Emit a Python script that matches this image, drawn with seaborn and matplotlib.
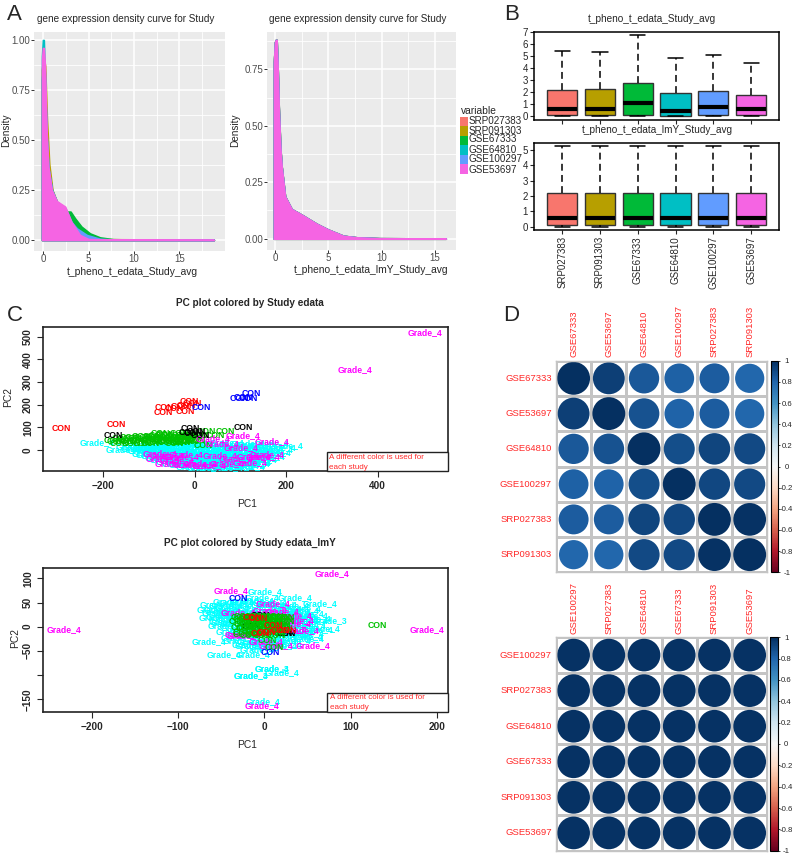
import numpy as np
import pandas as pd
import seaborn as sns
import matplotlib.pyplot as plt
from matplotlib.cm import ScalarMappable
from matplotlib.colors import Normalize
from matplotlib.patches import Rectangle
from matplotlib.ticker import MultipleLocator

sns.set_style("white")
plt.rcParams['font.family'] = ['Liberation Sans', 'DejaVu Sans']

W, H = 794, 856
studies = ['SRP027383', 'SRP091303', 'GSE67333', 'GSE64810', 'GSE100297', 'GSE53697']
gg_colors = ['#F8766D', '#B79F00', '#00BA38', '#00BFC4', '#619CFF', '#F564E3']

# panel A, density curves
a1_salmon_x = [-0.15, 0, 0.15, 0.35, 0.6, 0.95, 1.5, 2.4, 3.1, 4.0, 5.0, 7.0, 18.8]
a1_salmon_y = [0.85, 0.93, 0.86, 0.55, 0.36, 0.25, 0.19, 0.16, 0.09, 0.03, 0.006, 0.002, 0.001]
a1_olive_x = [-0.15, 0, 0.2, 0.4, 0.65, 1.0, 1.5, 2.4, 3.1, 4.0, 5.0, 7.0, 18.8]
a1_olive_y = [0.85, 0.92, 0.87, 0.6, 0.38, 0.25, 0.19, 0.16, 0.09, 0.035, 0.01, 0.004, 0.001]
a1_green_x = [-0.15, 0, 0.15, 0.35, 0.55, 0.95, 1.5, 2.3, 2.57, 3.0, 3.5, 4.2, 5.15, 6.25, 7.7, 10, 18.8]
a1_green_y = [0.8, 0.9, 0.84, 0.52, 0.36, 0.25, 0.19, 0.16, 0.142, 0.142, 0.108, 0.067, 0.033, 0.013, 0.004, 0.002, 0.001]
a1_cyan_x = [-0.15, -0.05, 0.05, 0.15, 0.35, 0.55, 0.95, 1.5, 2.4, 3.1, 4.0, 5.0, 7.0, 18.8]
a1_cyan_y = [0.92, 1.0, 1.0, 0.85, 0.53, 0.36, 0.25, 0.19, 0.16, 0.09, 0.03, 0.008, 0.002, 0.001]
a1_blue_x = [-0.15, 0, 0.15, 0.35, 0.55, 0.95, 1.5, 2.4, 3.1, 3.7, 4.8, 6.25, 8.0, 18.8]
a1_blue_y = [0.8, 0.9, 0.84, 0.53, 0.36, 0.25, 0.19, 0.16, 0.09, 0.058, 0.025, 0.006, 0.002, 0.001]
a1_pink_x = [-0.15, -0.05, 0.05, 0.18, 0.37, 0.55, 0.92, 1.47, 2.4, 3.1, 4.04, 4.96, 7.0, 18.8]
a1_pink_y = [0.9, 0.96, 0.96, 0.87, 0.53, 0.367, 0.25, 0.195, 0.167, 0.09, 0.025, 0.005, 0.002, 0.001]

a2_pink_x = [-0.1, 0.0, 0.08, 0.15, 0.25, 0.35, 0.5, 0.62, 0.94, 1.56, 2.5, 3.9, 5.0, 6.4, 7.66, 9.8, 16.0]
a2_pink_y = [0.78, 0.87, 0.88, 0.88, 0.75, 0.58, 0.4, 0.32, 0.187, 0.131, 0.106, 0.066, 0.04, 0.013, 0.006, 0.002, 0.001]

# panel B, five number summaries: min, q1, median, q3, max
b1_box = [[0, 0.08, 0.55, 2.2, 5.4],
          [0, 0.1, 0.55, 2.22, 5.32],
          [0, 0.1, 1.1, 2.75, 6.75],
          [0, 0.02, 0.44, 1.93, 4.85],
          [0, 0.07, 0.72, 2.1, 5.04],
          [0, 0.05, 0.6, 1.76, 4.4]]
b2_box = [[0, 0.1, 0.54, 2.17, 5.28],
          [0, 0.1, 0.54, 2.17, 5.28],
          [0, 0.1, 0.54, 2.17, 5.28],
          [0, 0.1, 0.54, 2.17, 5.28],
          [0, 0.1, 0.54, 2.17, 5.28],
          [0, 0.1, 0.54, 2.17, 5.28]]

# panel C top, label positions
c1_cyan_x = [-215, -157, -135, -118, -96, -78, -62, -44, -26, -8, 12, 30, 52, 70, 92, 116, 140, 168, 200,
             -110, -88, -66, -40, -18, 6, 28, 50, 76, 100, 124, 150, 178,
             -92, -70, -46, -22, 4, 24, 48, 72, 96, 122, 146, 172,
             -72, -50, -30, -6, 18, 42, 64, 88, 112, 138, 160,
             -48, -24, 0, 22, 44, 70, 94, 118, 142,
             -20, 6, 30, 56, 80, 104, 128,
             -125, -105, -75, -55, -30, -12, 8, 35, 60, 85, 108, 132, 155, 185,
             -100, -80, -55, -32, -12, 14, 38, 62, 88, 112, 136, 160,
             -80, -58, -36, -14, 10, 34, 58, 82, 106, 130, 154,
             -60, -38, -14, 10, 34, 58, 84, 108, 132,
             -35, -12, 14, 38, 62, 86, 108, 130,
             -5, 20, 44, 68, 92, 116]
c1_cyan_y = [32, 4, 14, 22, 10, 26, 8, 24, 12, 30, 16, 26, 8, 34, 18, 28, 14, 30, 18,
             -4, 2, -8, 0, -6, 2, -10, -2, 6, -6, 2, -8, 4,
             -20, -14, -22, -16, -24, -18, -14, -24, -18, -22, -16, -12,
             -32, -38, -30, -36, -34, -40, -30, -38, -32, -36, -28,
             -50, -44, -52, -48, -54, -46, -52, -46, -44,
             -64, -68, -60, -70, -64, -68, -60,
             5, 12, 16, 18, 20, 28, 24, 18, 22, 14, 10, 22, 6, 10,
             -14, -10, -4, -10, -12, -4, -8, -14, -10, -14, -6, -10,
             -26, -28, -24, -28, -26, -30, -26, -30, -28, -26, -22,
             -42, -46, -42, -44, -40, -44, -40, -44, -40,
             -58, -56, -58, -56, -60, -58, -54, -54,
             -74, -76, -72, -76, -72, -74]
c1_pink_x = [504, 350, 106, 168, 55, 157, -77, -69, -29, 11, -20, 40, 90, 130, 60, -50, 30, 100, -60, -40, 150, 120, 70, -10]
c1_pink_y = [518, 357, 62, 37, -25, -22, -15, -37, -29, -60, -18, 50, -40, -28, 28, -58, -70, 10, -25, -45, -30, -55, -62, -66]
c1_green_x = [-172, -160, -148, -136, -124, -112, -100, -88, -76, -64, -52, -40, -28, -16, -4, 8,
              -165, -140, -115, -90, -70, -55, -35, -15, -98, -45, -75, 18, 26, 67, 45, -30,
              -178, -155, -143, -130, -118, -106, -94, -82, -70, -58, -46, -34, -22, -10, 2,
              -60, -48, -36, -24, -12, -80, -90, -65, -20, -5]
c1_green_y = [38, 50, 42, 52, 44, 54, 40, 56, 38, 64, 48, 66, 46, 60, 52, 62,
              30, 30, 28, 32, 44, 38, 72, 72, 30, 30, 72, 22, 80, 81, 66, 34,
              44, 36, 56, 36, 58, 46, 60, 46, 56, 56, 56, 54, 54, 44, 44,
              34, 44, 34, 38, 36, 64, 48, 70, 62, 64]
c1_red_x = [-293, -172, -13, -66, -70, -22, -33, -45, -18, -5]
c1_red_y = [94, 112, 212, 188, 165, 169, 191, 182, 198, 205]
c1_blue_x = [123, 98, 117, 13, 105]
c1_blue_y = [249, 225, 225, 187, 232]
c1_black_x = [105, -178, -11, -4, 11, -14, 4]
c1_black_y = [99, 66, 93, 74, 66, 76, 82]

# panel C bottom, label positions
c2_cyan_x = [1, 36, 65, -64, -47, -13, 9, 20, -15, -1, 68, -40, -3, -55, -50, -45, -38, -30, -22, -14, -6, 4, 14, 24,
             34, 44, 54, -48, -35, -24, -10, 2, 16, 30, 42, 58, -42, -30, -16, 0, 12, 28, 44, 60, -20, -6, 8, 22, 40,
             -30, -12, 10, 30, 48, -18, 4, 24, 50,
             -58, -44, -32, -20, -8, 6, 18, 32, 46, -52, -40, -28, -14, 2, 18, 34, 50,
             -56, -44, -30, -18, -4, 12, 26, 40, 54, -46, -32, -20, -6, 8, 22, 38, 52,
             -36, -24, -10, 6, 20, 36, 50, -28, -12, 4, 18, 34, -14, 2, 18, -8]
c2_cyan_y = [73, 60, 48, -30, -57, -57, -87, -94, -102, -154, -3, 52, 60, 46, 36, 26, 40, 32, 44, 30, 38, 46, 30, 38,
             26, 34, 24, 20, 14, 22, 12, 20, 14, 20, 12, 16, 8, -2, 6, -4, 4, -2, 4, -6, -10, -14, -8, -14, -10,
             -22, -18, -24, -18, -20, -36, -32, -38, -24,
             36, 44, 50, 52, 54, 50, 46, 44, 38, 30, 30, 28, 32, 28, 32, 30, 28,
             18, 10, 24, 20, 22, 24, 22, 18, 12, 2, 6, -6, 8, -2, 6, 4, 2,
             -10, -14, -8, -12, -6, -12, -14, -28, -30, -26, -30, -28, -40, -42, -40, -48]
c2_g3_x = [76, 9, -15]
c2_g3_y = [12, -87, -102]
c2_pink_x = [79, -232, 189, -39, 56, -3, 10, 36, 34, -26, 14, 7, -30, -10, 30, 20, -24, 38, 44, 2]
c2_pink_y = [109, -5, -6, 74, -39, -163, 47, 24, 7, -17, -39, 34, 30, 20, -5, 32, -18, 12, -8, -30]
c2_green_x = [131, 3, 11, -26, -20, -14, -8, -2, 4, 10, 16, 22, -24, -16, -8, 0, 8, 14, 20, -22, -12, -4, 6, 14, 22,
              -26, -16, -6, 4, 14, 20,
              -28, -24, -18, -12, -6, 0, 6, 12, 18, 24, -30, -22, -14, -6, 2, 10, 18, 24,
              -28, -20, -12, -4, 4, 12, 20, -26, -18, -10, -2, 6, 14]
c2_green_y = [3, -29, -44, 14, 16, 12, 18, 14, 16, 12, 18, 14, 4, 6, 2, 8, 4, 6, 2, -4, -2, -6, -2, -6, -4,
              -12, -10, -14, -10, -12, -8,
              20, 22, 20, 22, 20, 22, 20, 22, 20, 18, 10, 10, 8, 10, 10, 10, 8, 10,
              -2, -2, 0, -2, 0, -2, 0, -16, -18, -16, -18, -16, -18]
c2_blue_x = [-30, 7]
c2_blue_y = [59, -53]
c2_red_x = [-7, 10, 27, -5, -14, 18, 2]
c2_red_y = [17, 3, -7, -14, 19, -8, -12]
c2_black_x = [-5, 22, -15, 25]
c2_black_y = [24, -14, 0, -15]

# panel D, correlation matrices
d1_names = ['GSE67333', 'GSE53697', 'GSE64810', 'GSE100297', 'SRP027383', 'SRP091303']
d1_r = [[1.00, 0.94, 0.85, 0.82, 0.83, 0.79],
        [0.94, 1.00, 0.87, 0.81, 0.83, 0.79],
        [0.85, 0.87, 1.00, 0.89, 0.92, 0.90],
        [0.82, 0.81, 0.89, 1.00, 0.91, 0.90],
        [0.83, 0.83, 0.92, 0.91, 1.00, 0.99],
        [0.79, 0.79, 0.90, 0.90, 0.99, 1.00]]
d2_names = ['GSE100297', 'SRP027383', 'GSE64810', 'GSE67333', 'SRP091303', 'GSE53697']
d2_r = [[0.99, 0.99, 0.99, 0.99, 0.99, 0.99],
        [0.99, 0.99, 0.99, 0.99, 0.99, 0.99],
        [0.99, 0.99, 0.99, 0.99, 0.99, 0.99],
        [0.99, 0.99, 0.99, 0.99, 0.99, 0.99],
        [0.99, 0.99, 0.99, 0.99, 0.99, 0.99],
        [0.99, 0.99, 0.99, 0.99, 0.99, 0.99]]

fig = plt.figure(figsize=(W / 100, H / 100), dpi=100)


def axes_px(left, top, right, bottom):
    return fig.add_axes([left / W, 1 - bottom / H, (right - left) / W, (bottom - top) / H])


def text_px(x, y, s, **kw):
    kw.setdefault('ha', 'center')
    kw.setdefault('va', 'center')
    fig.text(x / W, 1 - y / H, s, **kw)


# panel letters
for x, y, s in [(7, 20, 'A'), (504, 20, 'B'), (7, 321, 'C'), (503, 321, 'D')]:
    text_px(x, y, s, ha='left', va='baseline', fontsize=16)


def gg_axes(ax, xlim, ylim, yticks):
    ax.set_facecolor('#EBEBEB')
    for s in ax.spines.values():
        s.set_visible(False)
    ax.set_xlim(xlim)
    ax.set_ylim(ylim)
    ax.set_xticks([0, 5, 10, 15])
    ax.set_yticks(yticks)
    ax.xaxis.set_minor_locator(MultipleLocator(2.5))
    ax.yaxis.set_minor_locator(MultipleLocator(0.125))
    ax.grid(True, which='major', color='white', lw=1.1)
    ax.grid(True, which='minor', color='white', lw=0.6)
    ax.set_axisbelow(True)
    ax.tick_params(which='major', left=True, bottom=True, length=2, width=0.7, color='#333333',
                   labelcolor='#4D4D4D', labelsize=7, pad=0.5)
    ax.tick_params(which='minor', length=0)
    ax.set_yticklabels([f'{t:.2f}' for t in yticks])


# panel A left
ax = axes_px(34, 32, 225, 251)
gg_axes(ax, (-1.03, 20.03), (-0.055, 1.04), [0, 0.25, 0.5, 0.75, 1.0])
a1_curves = [(a1_salmon_x, a1_salmon_y), (a1_olive_x, a1_olive_y), (a1_green_x, a1_green_y),
             (a1_cyan_x, a1_cyan_y), (a1_blue_x, a1_blue_y), (a1_pink_x, a1_pink_y)]
for (x, y), c in zip(a1_curves, gg_colors):
    ax.fill_between(x, 0, y, color=c, lw=1.2)
text_px(126, 19.5, 'gene expression density curve for Study', fontsize=7.2)
text_px(6, 130, 'Density', fontsize=7.2, rotation=90)
text_px(132, 272, 't_pheno_t_edata_Study_avg', fontsize=7.4)

# panel A right
ax = axes_px(267, 32, 456, 250)
gg_axes(ax, (-0.75, 16.96), (-0.05, 0.915), [0, 0.25, 0.5, 0.75])
for c in gg_colors:
    ax.fill_between(a2_pink_x, 0, a2_pink_y, color=c, lw=1.2)
text_px(358, 19.5, 'gene expression density curve for Study', fontsize=7.2)
text_px(235, 130, 'Density', fontsize=7.2, rotation=90)
text_px(371, 270, 't_pheno_t_edata_lmY_Study_avg', fontsize=7.4)

# legend of panel A
text_px(461, 111, 'variable', ha='left', fontsize=7.4)
swatch_top = [117, 126.4, 135.8, 145.2, 154.6, 164]
label_y = [121.5, 130.5, 139.5, 150, 159, 170]
for t, ly, c, s in zip(swatch_top, label_y, gg_colors, studies):
    fig.add_artist(Rectangle((460 / W, 1 - (t + 9.6) / H), 8 / W, 9.6 / H, color=c, lw=0,
                             transform=fig.transFigure))
    text_px(469, ly, s, ha='left', fontsize=7.1)


def box_panel(ax, summary, ylim, yticks, show_labels):
    df = pd.DataFrame({'study': np.repeat(studies, 5), 'value': np.ravel(summary)})
    sns.boxplot(data=df, x='study', y='value', hue='study', palette=gg_colors, ax=ax, whis=(0, 100),
                width=0.8, saturation=1, fliersize=0, linecolor='#333333', linewidth=1, legend=False,
                medianprops=dict(color='black', linewidth=3, solid_capstyle='butt'),
                whiskerprops=dict(color='black', linewidth=1.1, linestyle=(0, (4.5, 2.8))),
                capprops=dict(color='black', linewidth=1.1))
    ax.set_xlim(-0.74, 5.74)
    ax.set_ylim(ylim)
    ax.set_yticks(yticks)
    ax.set_xlabel('')
    ax.set_ylabel('')
    for s in ax.spines.values():
        s.set_visible(True)
        s.set_color('black')
        s.set_linewidth(1.1)
    ax.tick_params(left=True, bottom=True, length=3, width=0.8, labelsize=7, pad=1.5)
    if show_labels:
        ax.tick_params(axis='x', labelrotation=90)
    else:
        ax.tick_params(axis='x', labelbottom=False)


ax = axes_px(534.3, 31.7, 779, 120)
box_panel(ax, b1_box, (-0.33, 7.0), range(0, 8), False)
text_px(652, 19, 't_pheno_t_edata_Study_avg', fontsize=7.2)

ax = axes_px(534.3, 142.7, 779, 230)
box_panel(ax, b2_box, (-0.22, 5.48), range(0, 6), True)
text_px(657, 130, 't_pheno_t_edata_lmY_Study_avg', fontsize=7.2)


def pc_panel(ax, groups, xlim, ylim, xticks, yticks, ylabels):
    for label, color, xs, ys in groups:
        for x, y in zip(xs, ys):
            ax.text(x, y, label, color=color, fontsize=6.2, fontweight='bold', ha='center', va='center')
    ax.set_xlim(xlim)
    ax.set_ylim(ylim)
    ax.set_xticks(xticks)
    ax.set_yticks(yticks)
    ax.set_yticklabels(ylabels, rotation=90, va='center')
    ax.tick_params(left=True, bottom=True, length=4, width=0.8, pad=3, labelsize=7.2)
    for t in ax.get_xticklabels() + ax.get_yticklabels():
        t.set_fontweight('bold')
    for s in ax.spines.values():
        s.set_visible(True)
        s.set_color('#222222')
        s.set_linewidth(1.2)


# panel C top
ax = axes_px(42.7, 326.7, 447.7, 471.3)
pc_panel(ax, [('Grade_4', 'cyan', c1_cyan_x, c1_cyan_y),
              ('CON', '#00C000', c1_green_x, c1_green_y),
              ('Grade_4', 'magenta', c1_pink_x, c1_pink_y),
              ('CON', 'black', c1_black_x, c1_black_y),
              ('CON', 'red', c1_red_x, c1_red_y),
              ('CON', 'blue', c1_blue_x, c1_blue_y)],
         (-333, 553), (-94, 544), [-200, 0, 200, 400], range(0, 501, 100),
         ['0', '100', '200', '300', '400', '500'])
text_px(250, 303, 'PC plot colored by Study edata', fontsize=7.2, fontweight='bold')
text_px(247, 504, 'PC1', fontsize=7.4)
text_px(8.3, 397, 'PC2', fontsize=7.4, rotation=90)
fig.add_artist(Rectangle((326.7 / W, 1 - 471.3 / H), 121 / W, 19.6 / H, fc='white', ec='#222222', lw=1,
                         transform=fig.transFigure))
text_px(329, 457.5, 'A different color is used for', ha='left', fontsize=5.8, color='#FF2A2A')
text_px(329, 467.5, 'each study', ha='left', fontsize=5.8, color='#FF2A2A')

# panel C bottom
ax = axes_px(42.7, 567.7, 447.7, 712)
pc_panel(ax, [('Grade_4', 'cyan', c2_cyan_x, c2_cyan_y),
              ('Grade_3', 'cyan', c2_g3_x, c2_g3_y),
              ('Grade_4', 'magenta', c2_pink_x, c2_pink_y),
              ('CON', 'black', c2_black_x, c2_black_y),
              ('CON', '#00C000', c2_green_x, c2_green_y),
              ('CON', 'red', c2_red_x, c2_red_y),
              ('CON', 'blue', c2_blue_x, c2_blue_y)],
         (-257, 212.6), (-176.5, 122), [-200, -100, 0, 100, 200], [-150, -100, -50, 0, 50, 100],
         ['\u2212150', '', '\u221250', '0', '50', '100'])
text_px(250, 543, 'PC plot colored by Study edata_lmY', fontsize=7.2, fontweight='bold')
text_px(247, 745, 'PC1', fontsize=7.4)
text_px(15, 638, 'PC2', fontsize=7.4, rotation=90)
fig.add_artist(Rectangle((326.7 / W, 1 - 712 / H), 121 / W, 19 / H, fc='white', ec='#222222', lw=1,
                         transform=fig.transFigure))
text_px(330, 697.5, 'A different color is used for', ha='left', fontsize=5.8, color='#FF2A2A')
text_px(330, 707.5, 'each study', ha='left', fontsize=5.8, color='#FF2A2A')


def corr_panel(ax, cax, names, r):
    sns.heatmap(np.zeros((6, 6)), cmap=['white'], cbar=False, linewidths=0.9, linecolor='#C4C4C4',
                xticklabels=names, yticklabels=names, ax=ax)
    rows, cols = np.indices((6, 6))
    df = pd.DataFrame({'col': cols.ravel() + 0.5, 'row': rows.ravel() + 0.5, 'r': np.ravel(r)})
    sns.scatterplot(data=df, x='col', y='row', hue='r', hue_norm=(-1, 1), palette='RdBu', size='r',
                    size_norm=(0, 1), sizes=(0, 560), linewidth=0, legend=False, ax=ax)
    ax.set_xlim(0, 6)
    ax.set_ylim(6, 0)
    ax.set_xlabel('')
    ax.set_ylabel('')
    ax.xaxis.tick_top()
    ax.tick_params(axis='x', labelrotation=90, length=0, pad=2.5, labelsize=6.8, labelcolor='#FF2A2A')
    ax.tick_params(axis='y', labelrotation=0, length=0, pad=3, labelsize=6.8, labelcolor='#FF2A2A')
    for s in ax.spines.values():
        s.set_visible(True)
        s.set_color('#C4C4C4')
        s.set_linewidth(1)
    cb = fig.colorbar(ScalarMappable(norm=Normalize(-1, 1), cmap='RdBu'), cax=cax)
    ticks = [-1, -0.8, -0.6, -0.4, -0.2, 0, 0.2, 0.4, 0.6, 0.8, 1]
    cb.set_ticks(ticks)
    cb.set_ticklabels(['-1', '-0.8', '-0.6', '-0.4', '-0.2', '0', '0.2', '0.4', '0.6', '0.8', '1'])
    cax.tick_params(labelsize=5.6, length=1.5, width=0.6, pad=4.6)
    for t in cax.get_yticklabels():
        t.set_ha('center')
    cb.outline.set_edgecolor('black')
    cb.outline.set_linewidth(0.8)


corr_panel(axes_px(556, 360.7, 767.3, 572.3), axes_px(770.7, 360.7, 778.3, 572.3), d1_names, d1_r)
corr_panel(axes_px(556, 637.3, 767.3, 850.7), axes_px(770.2, 637.3, 777.8, 850.7), d2_names, d2_r)

fig.savefig('out.png', dpi=100)
